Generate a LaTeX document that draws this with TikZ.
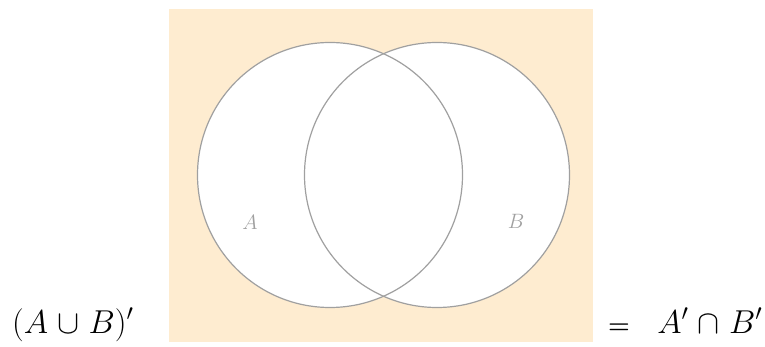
\documentclass[tikz,border=0pt]{standalone}
\usepackage{amsmath}
\usepackage{amssymb}
\usepackage{graphicx}
\usepackage{tikz}
\usetikzlibrary{positioning}
\definecolor{peach}{RGB}{254,236,208}
\definecolor{ringgray}{RGB}{160,160,160}
\newcommand{\bigtext}[1]{\scalebox{1.33}{\fontsize{24}{26}\selectfont #1}}

\begin{document}
\begin{tikzpicture}[
  x=1pt, y=-1pt,
  every node/.style={inner sep=0pt},
  universe/.style={fill=peach},
  setfill/.style={circle, fill=white, minimum size=265pt},
  setline/.style={circle, draw=ringgray, line width=1.2pt, minimum size=265pt},
  setlab/.style={text=ringgray, font=\fontsize{20}{22}\selectfont},
  eqn/.style={anchor=base west}
]
  \useasboundingbox (0,0) rectangle (765,347);
  \fill[universe] (169,9) rectangle (593,342);
  % the two sets
  \node[setfill] (fa) at (330,175) {};
  \node[setfill] (fb) at (437,175) {};
  \node[setline] (setA) at (330,175) {};
  \node[setline] (setB) at (437,175) {};
  \node[setlab] (labA) at (250,222) {$A$};
  \node[setlab] (labB) at (516,221) {$B$};
  % the identity
  \node[eqn] (lhs) at (12,333) {\bigtext{$(A\;{\cup}\;B)'$}};
  \node[eqn, font=\fontsize{24}{26}\selectfont] (eq) at (608,333) {$\boldsymbol{=}$};
  \node[eqn, right=27pt of eq.base east, anchor=base west] (rhs) {\bigtext{$A'\;{\cap}\;B'$}};
\end{tikzpicture}
\end{document}
